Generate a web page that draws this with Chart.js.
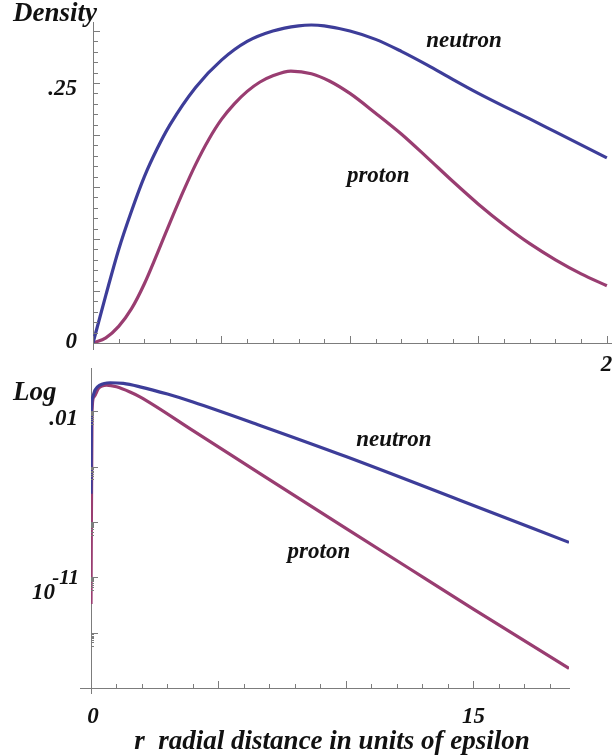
<!DOCTYPE html>
<html>
<head>
<meta charset="utf-8">
<script src="https://cdn.jsdelivr.net/npm/chart.js@4.4.1/dist/chart.umd.min.js"></script>
<style>
  html, body { margin: 0; padding: 0; background: #fff; }
  body { width: 612px; height: 755px; position: relative; overflow: hidden; }
  canvas { position: absolute; left: 0; }
  .density-chart { top: 0; }
  .log-chart { top: 355px; }
</style>
</head>
<body>
<canvas class="density-chart" width="612" height="380"></canvas>
<canvas class="log-chart" width="612" height="400"></canvas>
<script>
// ---- top panel: density against r ----
const topNeutronR = [0, 0.5, 1.0, 1.5, 2.0, 2.5, 3.0, 4.0, 5.0, 6.0, 7.0, 8.0, 8.5, 9.0, 10.0, 11.0, 12.0, 13.0, 14.0, 15.0, 16.0, 17.0, 18.0, 19.0, 20.0];
const topNeutron  = [0, 0.046, 0.090, 0.127, 0.160, 0.187, 0.210, 0.246, 0.272, 0.290, 0.300, 0.305, 0.3058, 0.305, 0.300, 0.292, 0.2805, 0.2675, 0.2535, 0.240, 0.2275, 0.2155, 0.203, 0.1905, 0.178];
const topProtonR  = [0, 0.5, 1.0, 1.5, 2.0, 2.5, 3.0, 3.5, 4.0, 4.5, 5.0, 5.5, 6.0, 6.5, 7.0, 7.7, 8.5, 9.2, 10.0, 11.0, 12.0, 13.0, 14.0, 15.0, 16.0, 17.0, 18.0, 19.0, 20.0];
const topProton   = [0, 0.005, 0.016, 0.033, 0.057, 0.086, 0.116, 0.145, 0.172, 0.1955, 0.215, 0.230, 0.242, 0.251, 0.257, 0.2615, 0.259, 0.252, 0.240, 0.221, 0.201, 0.1785, 0.1555, 0.1335, 0.1135, 0.0955, 0.080, 0.0665, 0.055];

// ---- bottom panel: same on a log axis ----
const logNeutronR = [0, 0.02, 0.07, 0.16, 0.35, 0.75, 1.27, 1.92, 3.0, 4.0, 6.63, 10.0, 14.47, 18.75];
const logNeutron  = [3.4e-7, 0.011, 0.06, 0.14, 0.26, 0.35, 0.32, 0.21, 0.085, 0.0316, 1.7e-3, 3.5e-5, 1.5e-7, 7.8e-10];
const logProtonR  = [0, 0.04, 0.12, 0.29, 0.61, 1.0, 1.53, 1.92, 4.0, 6.63, 10.0, 12.5, 15.0, 18.75];
const logProton   = [3.6e-13, 0.011, 0.06, 0.17, 0.26, 0.21, 0.11, 0.06, 8.9e-4, 4.2e-6, 4.5e-9, 2.9e-11, 1.9e-13, 1.15e-16];

// tick labels that are still readable in the picture
const topYLabels = [{ v: 0, t: '0' }, { v: 0.25, t: '.25' }];
const topXLabels = [{ v: 20, t: '20' }];
const logYMajors = [1e-2, 1e-5, 1e-8, 1e-11, 1e-14];
const logXLabels = [{ v: 0, t: '0' }, { v: 15, t: '15' }];

const blue = 'rgb(61,61,153)';
const plum = 'rgb(153,61,113)';
const axisGray = '#7c7c7c';
const ink = '#111';
const serif = '"Liberation Serif", "DejaVu Serif", serif';

function pts(xs, ys) {
    return xs.map((x, i) => ({ x: x, y: ys[i] }));
}

// Mathematica style ticks: short marks drawn inside the frame
const innerTicks = {
    id: 'innerTicks',
    afterDraw(chart, args, opts) {
        const { ctx, chartArea: a, scales: { x, y } } = chart;
        ctx.save();
        ctx.strokeStyle = axisGray;
        ctx.lineWidth = 1;
        ctx.beginPath();
        opts.xTicks.forEach(t => {
            const px = Math.round(x.getPixelForValue(t.v)) + 0.5;
            ctx.moveTo(px, a.bottom);
            ctx.lineTo(px, a.bottom - t.len);
        });
        opts.yTicks.forEach(t => {
            const py = Math.round(y.getPixelForValue(t.v)) + 0.5;
            ctx.moveTo(a.left, py);
            ctx.lineTo(a.left + t.len, py);
        });
        // little overhangs of the axis lines
        const ex = opts.extend;
        ctx.moveTo(Math.round(a.left) + 0.5, a.bottom);
        ctx.lineTo(Math.round(a.left) + 0.5, a.bottom + ex.down);
        ctx.moveTo(a.left - ex.left, Math.round(a.bottom) + 0.5);
        ctx.lineTo(a.left, Math.round(a.bottom) + 0.5);
        ctx.stroke();

        // texts
        ctx.fillStyle = ink;
        opts.texts.forEach(t => {
            ctx.font = 'italic bold ' + t.size + 'px ' + serif;
            ctx.textAlign = t.align || 'center';
            ctx.textBaseline = 'middle';
            let px = t.px, py = t.py;
            if (t.r !== undefined) px = x.getPixelForValue(t.r) + (t.dx || 0);
            if (t.v !== undefined) py = y.getPixelForValue(t.v) + (t.dy || 0);
            ctx.fillText(t.text, px, py);
        });
        ctx.restore();
    }
};

function frameScale(type, min, max) {
    return {
        type: type,
        min: min,
        max: max,
        ticks: { display: false },
        grid: { display: true, drawOnChartArea: false, drawTicks: false },
        border: { display: true, color: axisGray, width: 1 }
    };
}

function lineSet(label, data, color) {
    return {
        label: label,
        data: data,
        borderColor: color,
        backgroundColor: color,
        borderWidth: 3.2,
        pointRadius: 0,
        cubicInterpolationMode: 'monotone',
        fill: false
    };
}

// ---------- top chart ----------
const topXTicks = [];
for (let i = 0; i <= 20; i++) topXTicks.push({ v: i, len: i % 5 === 0 ? 7 : 4 });
const topYTicks = [];
for (let i = 1; i <= 30; i++) topYTicks.push({ v: i / 100, len: i % 5 === 0 ? 7 : 5 });

const topTexts = [
    { text: 'Density', px: 13, py: 14, size: 27, align: 'left' },
    { text: 'neutron', r: 14.44, v: 0.29, size: 23 },
    { text: 'proton', r: 11.1, v: 0.161, size: 23 }
];
topYLabels.forEach(l => topTexts.push({ text: l.t, px: 77, v: l.v, dy: l.v === 0 ? -1 : 6, size: 23, align: 'right' }));
topXLabels.forEach(l => topTexts.push({ text: l.t, r: l.v, dx: -6, py: 365, size: 23, align: 'left' }));

new Chart(document.querySelector('.density-chart'), {
    type: 'line',
    data: {
        datasets: [
            lineSet('neutron', pts(topNeutronR, topNeutron), blue),
            lineSet('proton', pts(topProtonR, topProton), plum)
        ]
    },
    options: {
        responsive: false,
        animation: false,
        layout: { padding: { left: 93, top: 22, right: 0, bottom: 37 } },
        scales: {
            x: frameScale('linear', 0, 20.2),
            y: frameScale('linear', 0, 0.3087)
        },
        plugins: {
            legend: { display: false },
            tooltip: { enabled: false },
            innerTicks: { xTicks: topXTicks, yTicks: topYTicks, extend: { down: 7, left: 0 }, texts: topTexts }
        }
    },
    plugins: [innerTicks]
});

// ---------- bottom chart ----------
const logXTicks = [];
for (let i = 0; i <= 18; i++) logXTicks.push({ v: i, len: i % 5 === 0 ? 7 : 4 });
const logYTicks = [];
logYMajors.forEach(m => {
    logYTicks.push({ v: m, len: 7 });
    for (let k = 2; k <= 9; k++) logYTicks.push({ v: k * m / 10, len: 3 });
});

const logTexts = [
    { text: 'Log', px: 13, py: 38, size: 27, align: 'left' },
    { text: 'neutron', r: 11.88, v: 2.7e-4, size: 23 },
    { text: 'proton', r: 8.94, v: 2.2e-10, size: 23 },
    { text: '.01', px: 78, v: 1e-2, dy: 8, size: 23, align: 'right' },
    { text: '10', px: 55, v: 1e-11, dy: 16, size: 23, align: 'right' },
    { text: '-11', px: 79, v: 1e-11, dy: 1, size: 21, align: 'right' },
    { text: 'r  radial distance in units of epsilon', px: 332, py: 387, size: 27 }
];
logXLabels.forEach(l => logTexts.push({ text: l.t, r: l.v, dx: l.v === 0 ? 2 : 0, py: 362, size: 23 }));

new Chart(document.querySelector('.log-chart'), {
    type: 'line',
    data: {
        datasets: [
            lineSet('neutron', pts(logNeutronR, logNeutron), blue),
            lineSet('proton', pts(logProtonR, logProton), plum)
        ]
    },
    options: {
        responsive: false,
        animation: false,
        layout: { padding: { left: 91, top: 13, right: 43, bottom: 67 } },
        scales: {
            x: frameScale('linear', 0, 18.75),
            y: frameScale('logarithmic', 1e-17, 2.2)
        },
        plugins: {
            legend: { display: false },
            tooltip: { enabled: false },
            innerTicks: { xTicks: logXTicks, yTicks: logYTicks, extend: { down: 6, left: 11 }, texts: logTexts }
        }
    },
    plugins: [innerTicks]
});
</script>
</body>
</html>
